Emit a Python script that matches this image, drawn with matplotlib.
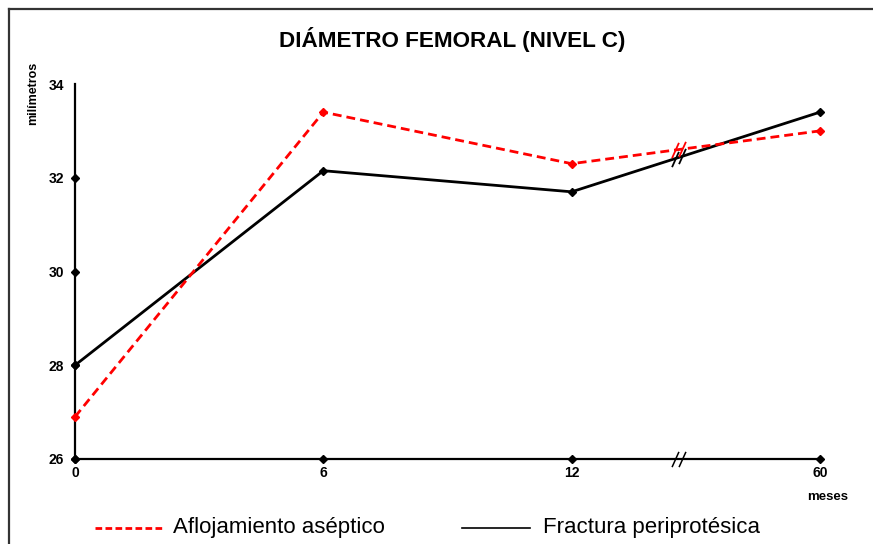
import matplotlib
matplotlib.use("Agg")
import matplotlib.pyplot as plt
from matplotlib.lines import Line2D
from matplotlib.path import Path
import numpy as np

# Diámetro femoral (nivel C) por grupo, en milímetros
meses = ["0", "6", "12", "60"]
aflojamiento = [26.9, 33.4, 32.3, 33.0]
fractura = [28.0, 32.15, 31.7, 33.4]
y_ticks = [26, 28, 30, 32, 34]

plt.rcParams["font.family"] = ["Liberation Sans Narrow", "Liberation Sans", "DejaVu Sans"]

fig = plt.figure(figsize=(8.73, 5.44), dpi=100)
ax = fig.add_axes([75 / 873, 1 - 459 / 544, 745 / 873, 375 / 544])

x = np.arange(len(meses))
ax.plot(x, fractura, color="black", lw=2.0, marker="D", ms=4, clip_on=False, zorder=3)
ax.plot(x, aflojamiento, color="#ff0000", lw=2.0, ls=(0, (3.2, 1.8)),
        marker="D", ms=4, clip_on=False, zorder=4)

ax.set_xlim(0, len(meses) - 1)
ax.set_ylim(y_ticks[0], y_ticks[-1])

for s in ["top", "right"]:
    ax.spines[s].set_visible(False)
for s in ["left", "bottom"]:
    ax.spines[s].set_linewidth(1.6)

ax.set_xticks(x)
ax.set_xticklabels(meses)
ax.set_yticks(y_ticks)
ax.tick_params(axis="x", length=0, labelsize=10, pad=5)
ax.tick_params(axis="y", length=0, labelsize=10, pad=8)
for lab in ax.get_xticklabels() + ax.get_yticklabels():
    lab.set_fontweight("bold")

# rombos sobre los ejes
ax.plot(x, [y_ticks[0]] * len(x), ls="none", marker="D", ms=4, color="black",
        clip_on=False, zorder=5)
ax.plot([0] * (len(y_ticks) - 1), y_ticks[:-1], ls="none", marker="D", ms=4,
        color="black", clip_on=False, zorder=5)

# marcas de corte del eje temporal entre 12 y 60
slash = Path([(-0.45, -1.0), (0.45, 1.0)], [Path.MOVETO, Path.LINETO])
xb = 2.43
for dx in (-0.014, 0.014):
    xc = xb + dx
    for serie, col in ((fractura, "black"), (aflojamiento, "#ff0000")):
        yc = np.interp(xc, x, serie)
        ax.plot([xc], [yc], ls="none", marker=slash, ms=11, mew=1.3, mec=col,
                clip_on=False, zorder=6)
    ax.plot([xc], [y_ticks[0]], ls="none", marker=slash, ms=11, mew=1.1,
            mec="black", clip_on=False, zorder=6)

fig.text(0.518, 1 - 40 / 544, "DIÁMETRO FEMORAL (NIVEL C)", ha="center", va="center",
         fontsize=16.2, fontweight="bold")
fig.text(33 / 873, 1 - 93 / 544, "milímetros", rotation=90, ha="center", va="center",
         fontsize=9, fontweight="bold")
fig.text(828 / 873, 1 - 497 / 544, "meses", ha="center", va="center",
         fontsize=9.5, fontweight="bold")

# leyenda
yl = 1 - 528 / 544
fig.add_artist(Line2D([95 / 873, 162 / 873], [yl, yl], color="#ff0000", lw=2.0,
                      ls=(0, (2.4, 1.2))))
fig.text(173 / 873, yl, "Aflojamiento aséptico", ha="left", va="center", fontsize=16)
fig.add_artist(Line2D([462 / 873, 530 / 873], [yl, yl], color="black", lw=1.2))
fig.text(543 / 873, yl, "Fractura periprotésica", ha="left", va="center", fontsize=16)

# marco del gráfico
fig.add_artist(Line2D([9 / 873, 1.0], [1 - 9 / 544, 1 - 9 / 544], color="#333333", lw=1.6))
fig.add_artist(Line2D([9 / 873, 9 / 873], [0.0, 1 - 9 / 544], color="#333333", lw=1.6))

fig.savefig("out.png", dpi=100, facecolor="white")
